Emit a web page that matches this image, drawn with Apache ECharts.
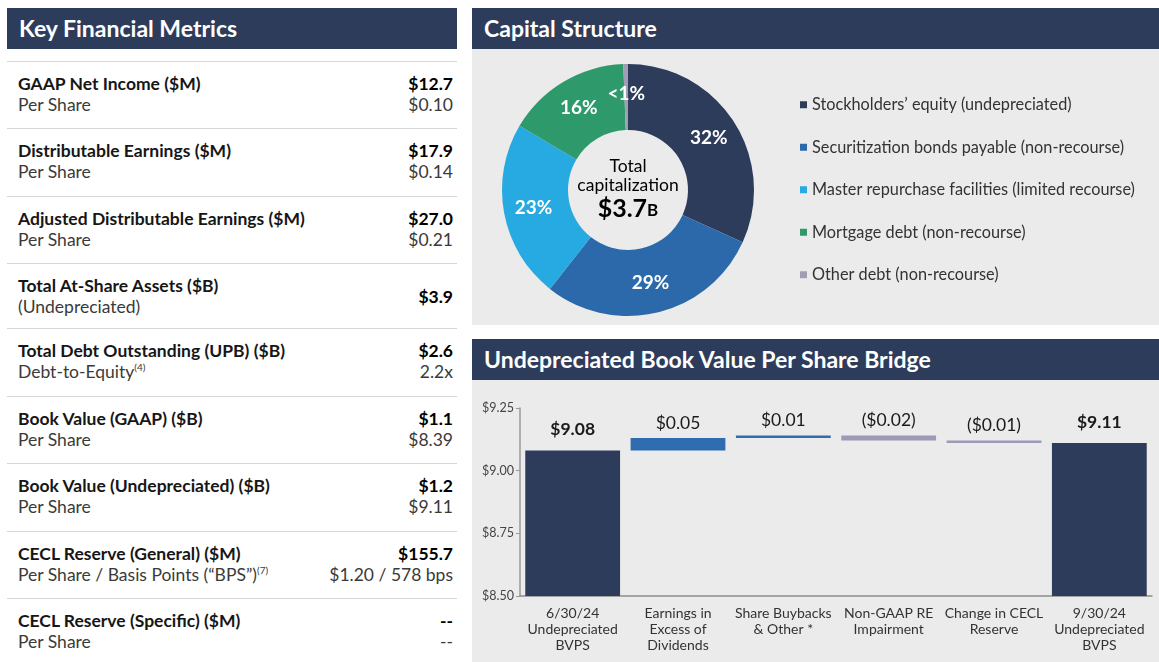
<!DOCTYPE html>
<html>
<head>
<meta charset="utf-8">
<script src="https://cdn.jsdelivr.net/npm/echarts@6/dist/echarts.min.js"></script>
<style>
  body { margin: 0; width: 1159px; height: 662px; background: #fff; font-family: Lato, "Noto Sans", sans-serif; position: relative; overflow: hidden; }
  .head { position: absolute; background: #2e3c5b; color: #fff; font-weight: 700; font-size: 23px; line-height: 41px; padding-left: 12px; box-sizing: border-box; }
  .panel { position: absolute; background: #ebebeb; }
  #metrics { position: absolute; left: 7px; top: 61px; width: 450px; }
  .row { position: relative; border-top: 1.5px solid #d6d6d6; box-sizing: border-box; }
  .row .lab { position: absolute; left: 11px; color: #161616; white-space: nowrap; }
  .row .b { font-weight: 700; font-size: 17.5px; }
  .row .s { font-size: 17.5px; color: #3a3a3a; }
  .row .val { position: absolute; right: 4px; text-align: right; white-space: nowrap; }
  sup { font-size: 10px; }
</style>
</head>
<body>
<div class="head" style="left:7px;top:8px;width:450px;height:41px;">Key Financial Metrics</div>
<div id="metrics"></div>

<div class="head" style="left:472px;top:8px;width:687px;height:41px;">Capital Structure</div>
<div class="panel" id="pie" style="left:472px;top:49px;width:687px;height:276px;"></div>

<div class="head" style="left:472px;top:339px;width:687px;height:41px;">Undepreciated Book Value Per Share Bridge</div>
<div class="panel" id="bridge" style="left:472px;top:380px;width:687px;height:282px;"></div>

<script>
// key metrics table
const metricNames = ['GAAP Net Income ($M)', 'Distributable Earnings ($M)', 'Adjusted Distributable Earnings ($M)',
  'Total At-Share Assets ($B)', 'Total Debt Outstanding (UPB) ($B)', 'Book Value (GAAP) ($B)',
  'Book Value (Undepreciated) ($B)', 'CECL Reserve (General) ($M)', 'CECL Reserve (Specific) ($M)']
const metricSubs = ['Per Share', 'Per Share', 'Per Share', '(Undepreciated)', 'Debt-to-Equity<sup>(4)</sup>',
  'Per Share', 'Per Share', 'Per Share / Basis Points (\u201cBPS\u201d)<sup>(7)</sup>', 'Per Share']
const metricValues = ['$12.7', '$17.9', '$27.0', '$3.9', '$2.6', '$1.1', '$1.2', '$155.7', '--']
const metricSubValues = ['$0.10', '$0.14', '$0.21', '', '2.2x', '$8.39', '$9.11', '$1.20 / 578 bps', '--']
const rowHeights = [67, 68, 67, 65, 68, 67, 68, 67, 64]

// capital structure
const capNames = ['Stockholders\u2019 equity (undepreciated)', 'Securitization bonds payable (non-recourse)',
  'Master repurchase facilities (limited recourse)', 'Mortgage debt (non-recourse)', 'Other debt (non-recourse)']
const capShares = [32, 29, 23, 16, 0.6]
const capLabels = ['32%', '29%', '23%', '16%', '<1%']
const capColors = ['#2e3c5b', '#2b69ab', '#27a9e1', '#2e9a6c', '#a19eb4']

// bridge
const bridgeCats = ['6/30/24\nUndepreciated\nBVPS', 'Earnings in\nExcess of\nDividends', 'Share Buybacks\n& Other *',
  'Non-GAAP RE\nImpairment', 'Change in CECL\nReserve', '9/30/24\nUndepreciated\nBVPS']
const bridgeValues = [9.08, 0.05, 0.01, -0.02, -0.01, 9.11]
const bridgeIsTotal = [true, false, false, false, false, true]

let html = ''
metricNames.forEach(function (n, i) {
  const h = rowHeights[i]
  if (metricSubValues[i] === '') {
    html += '<div class="row" style="height:' + h + 'px">' +
      '<div class="lab b" style="top:11px">' + n + '</div>' +
      '<div class="lab s" style="top:32px">' + metricSubs[i] + '</div>' +
      '<div class="val b" style="top:22px">' + metricValues[i] + '</div></div>'
  } else {
    html += '<div class="row" style="height:' + h + 'px">' +
      '<div class="lab b" style="top:11px">' + n + '</div>' +
      '<div class="lab s" style="top:32px">' + metricSubs[i] + '</div>' +
      '<div class="val b" style="top:11px">' + metricValues[i] + '</div>' +
      '<div class="val s" style="top:32px">' + metricSubValues[i] + '</div></div>'
  }
})
html += '<div class="row" style="height:1px"></div>'
document.getElementById('metrics').innerHTML = html

const pieChart = echarts.init(document.getElementById('pie'))
pieChart.setOption({
  color: capColors,
  legend: {
    orient: 'vertical',
    left: 323,
    top: 42,
    icon: 'rect',
    itemWidth: 7,
    itemHeight: 7,
    itemGap: 25,
    textStyle: { fontFamily: 'Lato', fontSize: 16.3, color: '#333', lineHeight: 17.5 },
    data: capNames
  },
  graphic: [{
    type: 'text',
    x: 156,
    y: 108,
    silent: true,
    style: {
      align: 'center',
      verticalAlign: 'top',
      text: '{a|Total}\n{a|capitalization}\n{c|$3.7}{d|B}',
      rich: {
        a: { fontFamily: 'Lato', fontSize: 17.5, color: '#333', lineHeight: 19 },
        c: { fontFamily: 'Lato', fontSize: 25, fontWeight: 'bold', color: '#111', lineHeight: 27 },
        d: { fontFamily: 'Lato', fontSize: 17, fontWeight: 'bold', color: '#111', lineHeight: 27, padding: [5, 0, 0, 0] }
      }
    }
  }],
  series: [{
    type: 'pie',
    center: [156, 141],
    radius: [60, 126],
    startAngle: 90,
    clockwise: true,
    avoidLabelOverlap: false,
    silent: true,
    label: {
      position: 'inside',
      fontFamily: 'Lato',
      fontSize: 19,
      fontWeight: 'bold',
      color: '#fff',
      formatter: function (p) { return capLabels[p.dataIndex] }
    },
    labelLine: { show: false },
    data: capNames.map(function (n, i) { return { name: n, value: capShares[i] } })
  }]
})

// waterfall: transparent base + visible step
const bases = []
const steps = []
let run = 0
bridgeValues.forEach(function (v, i) {
  if (bridgeIsTotal[i]) {
    bases.push(0)
    steps.push(v)
    run = v
  } else {
    const lo = v >= 0 ? run : run + v
    bases.push(+lo.toFixed(4))
    steps.push(Math.abs(v))
    run = +(run + v).toFixed(4)
  }
})
function money(v) {
  const s = '$' + Math.abs(v).toFixed(2)
  return v < 0 ? '(' + s + ')' : s
}

const barChart = echarts.init(document.getElementById('bridge'))
barChart.setOption({
  grid: { left: 48, right: 7, top: 28, bottom: 66 },
  xAxis: {
    type: 'category',
    data: bridgeCats,
    axisLine: { lineStyle: { color: '#8c8c8c', width: 1.5 } },
    axisTick: { show: false },
    axisLabel: { fontFamily: 'Lato', fontSize: 14, color: '#333', lineHeight: 16, margin: 9, interval: 0 }
  },
  yAxis: {
    type: 'value',
    min: 8.5,
    max: 9.25,
    interval: 0.25,
    axisLine: { show: true, lineStyle: { color: '#9a9a9a', width: 1.5 } },
    axisTick: { show: true, length: 4, lineStyle: { color: '#9a9a9a' } },
    splitLine: { show: false },
    axisLabel: { fontFamily: 'Lato', fontSize: 12.5, color: '#444', margin: 6, formatter: function (v) { return '$' + v.toFixed(2) } }
  },
  series: [{
    type: 'bar',
    stack: 'w',
    silent: true,
    barWidth: '90%',
    itemStyle: { color: 'transparent' },
    data: bases
  }, {
    type: 'bar',
    stack: 'w',
    silent: true,
    barWidth: '90%',
    data: steps.map(function (s, i) {
      const v = bridgeValues[i]
      return {
        value: s,
        itemStyle: { color: bridgeIsTotal[i] ? '#2e3c5b' : (v >= 0 ? '#2f6db0' : '#9d9ab8') },
        label: {
          show: true,
          position: 'top',
          distance: bridgeIsTotal[i] ? 12 : 6,
          fontFamily: 'Lato',
          fontSize: 17.5,
          fontWeight: bridgeIsTotal[i] ? 'bold' : 'normal',
          color: '#1a1a1a',
          formatter: money(v)
        }
      }
    })
  }]
})
</script>
</body>
</html>
